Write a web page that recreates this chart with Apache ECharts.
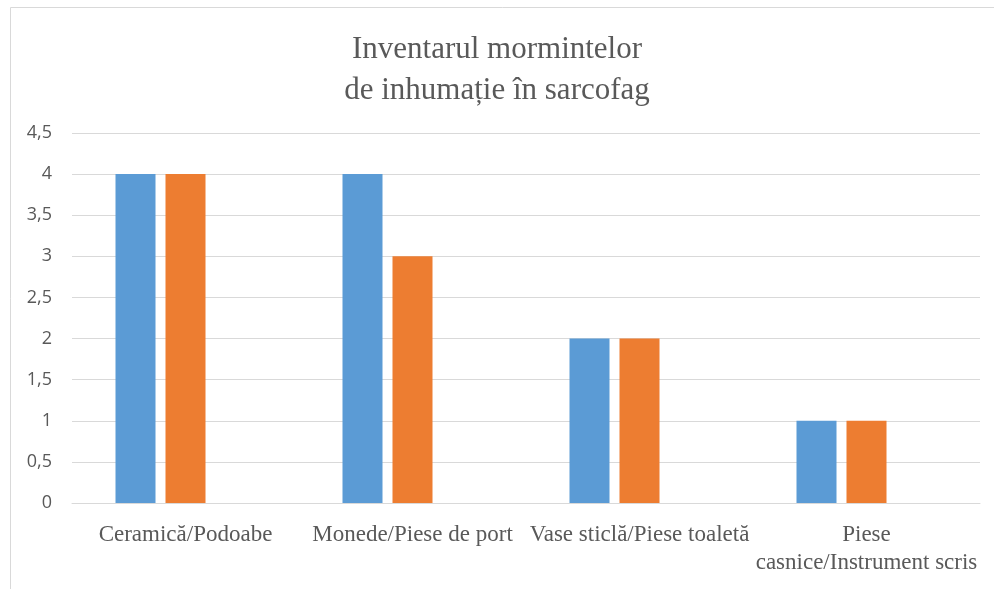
<!DOCTYPE html>
<html><head><meta charset="utf-8">
<script src="https://cdn.jsdelivr.net/npm/echarts@6/dist/echarts.min.js"></script>
<style>html,body{margin:0;padding:0;background:#fff}#c{width:994px;height:589px}</style>
</head><body><div id="c"></div>
<script>
const titleLines = ["Inventarul mormintelor", "de inhumație în sarcofag"];
const categories = ["Ceramică/Podoabe", "Monede/Piese de port", "Vase sticlă/Piese toaletă", "Piese\ncasnice/Instrument scris"];
const seriesA = [4, 4, 2, 1];
const seriesB = [4, 3, 2, 1];
const seriesC = [null, null, null, null];
const yTicks = {min: 0, max: 4.5, interval: 0.5};

const chart = echarts.init(document.getElementById('c'));
chart.setOption({
  animation: false,
  graphic: [{type: 'rect', shape: {x: 10.5, y: 7.5, width: 1000, height: 600}, style: {fill: 'none', stroke: '#d9d9d9', lineWidth: 1}}],
  title: {
    text: titleLines.join('\n'), left: 'center', top: 24,
    textStyle: {fontFamily: 'Liberation Serif', fontWeight: 'normal', fontSize: 31, color: '#595959', lineHeight: 41}
  },
  grid: {left: 72, right: 14, top: 133, bottom: 86, containLabel: false},
  xAxis: {
    type: 'category', data: categories,
    axisLine: {lineStyle: {color: '#d9d9d9', width: 1}},
    axisTick: {show: false},
    axisLabel: {fontFamily: 'Liberation Serif', fontSize: 23, color: '#595959', margin: 18, lineHeight: 28, interval: 0}
  },
  yAxis: {
    type: 'value', min: yTicks.min, max: yTicks.max, interval: yTicks.interval,
    axisLine: {show: false}, axisTick: {show: false},
    splitLine: {lineStyle: {color: '#d9d9d9', width: 1}},
    axisLabel: {fontFamily: 'Open Sans', fontSize: 18, color: '#595959', margin: 20,
      formatter: v => String(v).replace('.', ',')}
  },
  series: [
    {type: 'bar', data: seriesA, barWidth: 40, barGap: '25%', itemStyle: {color: '#5B9BD5'}},
    {type: 'bar', data: seriesB, barWidth: 40, barGap: '25%', itemStyle: {color: '#ED7D31'}},
    {type: 'bar', data: seriesC, barWidth: 40, barGap: '25%', itemStyle: {color: '#A5A5A5'}}
  ]
});
</script></body></html>
